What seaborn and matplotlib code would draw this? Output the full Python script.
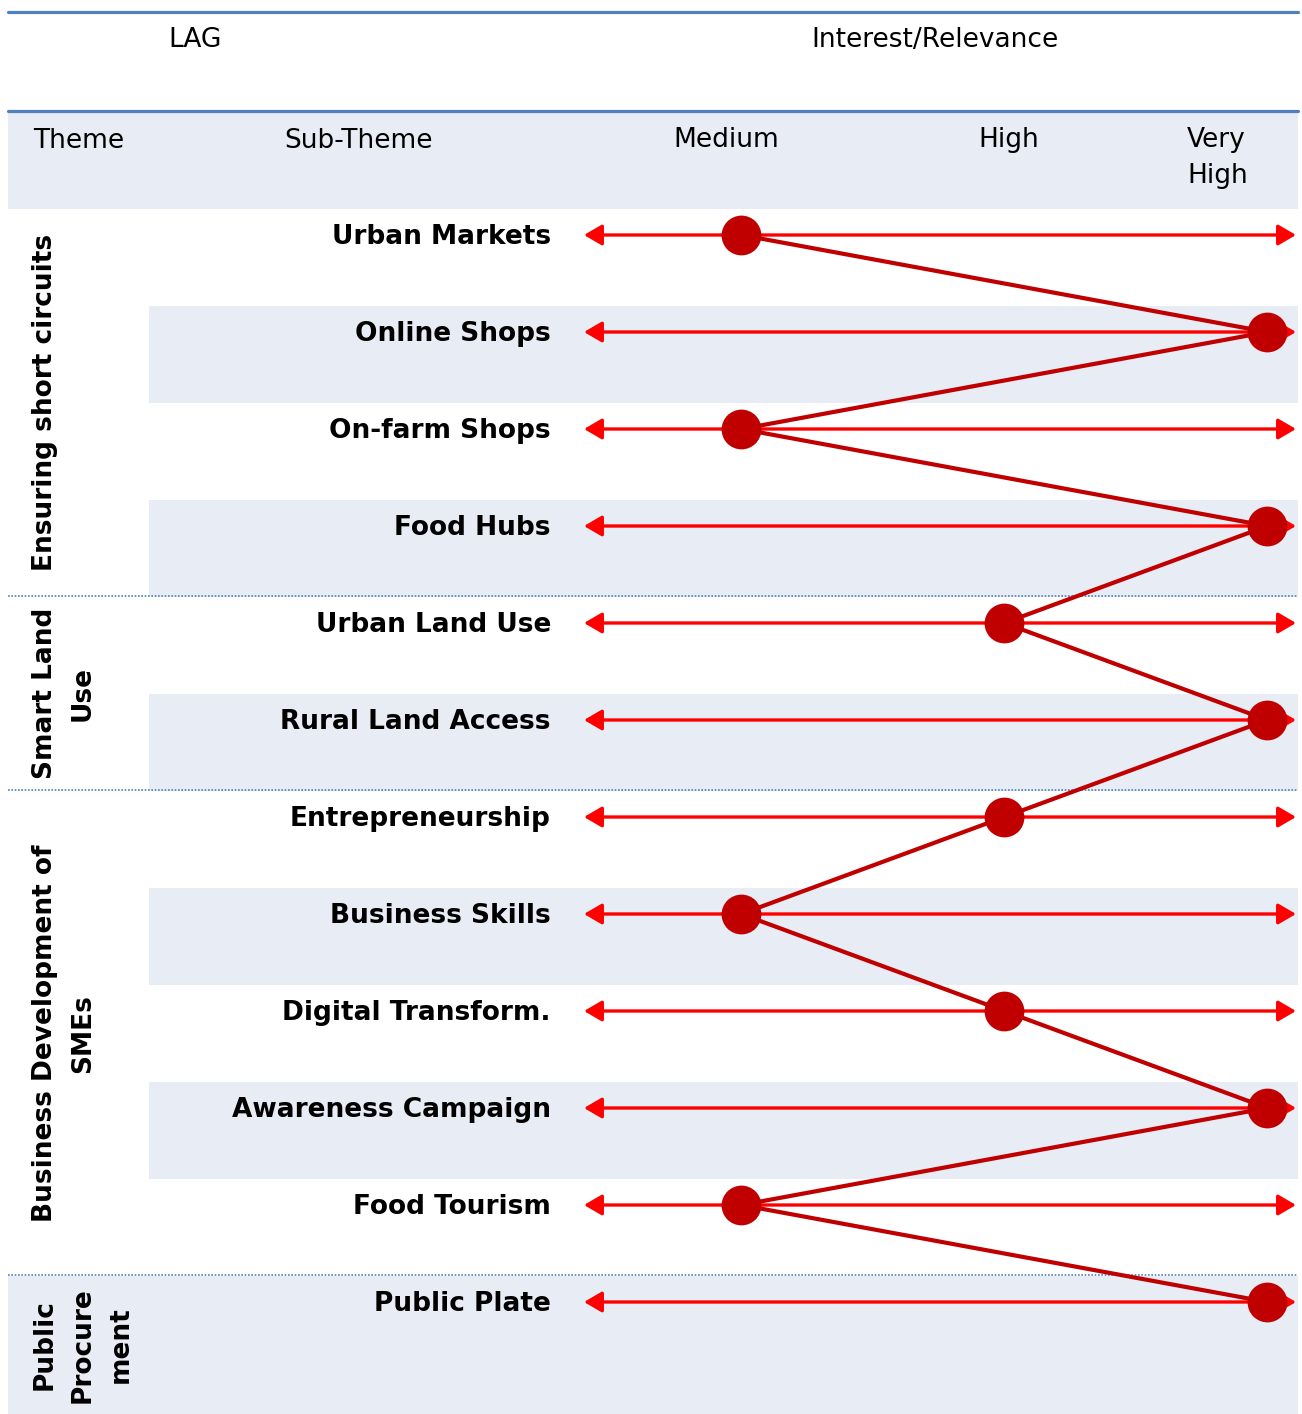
import matplotlib
matplotlib.use("Agg")
import matplotlib.pyplot as plt
import pandas as pd
import seaborn as sns

# Data
sub_themes = ["Urban Markets", "Online Shops", "On-farm Shops", "Food Hubs",
              "Urban Land Use", "Rural Land Access", "Entrepreneurship",
              "Business Skills", "Digital Transform.", "Awareness Campaign",
              "Food Tourism", "Public Plate"]
relevance = ["Medium", "Very High", "Medium", "Very High", "High", "Very High",
             "High", "Medium", "High", "Very High", "Medium", "Very High"]
levels = ["Medium", "High", "Very High"]
level_labels = ["Medium", "High", "Very\nHigh"]
themes = ["Ensuring short circuits", "Smart Land\nUse",
          "Business Development of\nSMEs", "Public\nProcure\nment"]
theme_rows = [(0, 3), (4, 5), (6, 10), (11, 11)]

df = pd.DataFrame({"sub_theme": sub_themes, "relevance": relevance})
df["row"] = range(len(df))
df["score"] = df["relevance"].map({lv: i for i, lv in enumerate(levels)})

W, H = 1302, 1414
BLUE = "#4F81BD"
SHADE = "#E8ECF4"
RED = "#FF0000"
DARK_RED = "#C00000"

sns.set_style("white")
plt.rcParams["font.family"] = ["DejaVu Sans"]
plt.rcParams["text.color"] = "black"

fig = plt.figure(figsize=(W / 100, H / 100), dpi=100)
ax = fig.add_axes([0, 0, 1, 1])

# pixel <-> data mapping: level i at x0 + dx*i, row r at y0 + dy*r
x0, dx = 741.3, 263.0
y0, dy = 235.0, 97.0
ax.set_xlim(-x0 / dx, (W - x0) / dx)
ax.set_ylim((H - y0) / dy, -y0 / dy)
ax.axis("off")


def lx(px):
    return (px - x0) / dx


def ry(py):
    return (py - y0) / dy


# header lines and band
ax.axhline(ry(12), xmin=8 / W, xmax=1298 / W, color=BLUE, lw=2.3)
ax.axhline(ry(111), xmin=8 / W, xmax=1298 / W, color=BLUE, lw=2.3)
ax.axhspan(ry(113), ry(209), xmin=8 / W, xmax=1298 / W, color=SHADE, lw=0)

# row shading
for r in df["row"]:
    if r == len(df) - 1:
        ax.axhspan(r - 0.27, ry(H), xmin=8 / W, xmax=1298 / W, color=SHADE, lw=0)
    elif r % 2 == 1:
        ax.axhspan(r - 0.27, r + 0.73, xmin=149 / W, xmax=1298 / W, color=SHADE, lw=0)

# dotted group separators
for start, end in theme_rows[1:]:
    ax.axhline(start - 0.28, xmin=8 / W, xmax=1298 / W, color=BLUE, lw=1.2, ls=(0, (1, 1)))

fs = 19
fig.text(195 / W, 1 - 40 / H, "LAG", ha="center", va="center", fontsize=fs)
fig.text(935 / W, 1 - 40 / H, "Interest/Relevance", ha="center", va="center", fontsize=fs)
fig.text(33 / W, 1 - 141 / H, "Theme", ha="left", va="center", fontsize=fs)
fig.text(284 / W, 1 - 141 / H, "Sub-Theme", ha="left", va="center", fontsize=fs)
for lbl, px in zip(level_labels, [673, 978, 1187]):
    ax.text(lx(px), ry(127), lbl, ha="left", va="top", fontsize=fs, linespacing=1.5)

# theme labels
for name, (start, end) in zip(themes, theme_rows):
    top = start - 0.27
    bottom = end + 0.73 if end < len(df) - 1 else ry(H)
    ax.text(lx(32), (top + bottom) / 2, name, rotation=90, ha="left", va="center",
            fontsize=fs, fontweight="bold", multialignment="center", linespacing=1.6)

# sub-theme labels and arrows
for _, row in df.iterrows():
    ax.text(lx(551), row["row"] + 0.02, row["sub_theme"], ha="right", va="center",
            fontsize=fs, fontweight="bold")
    ax.annotate("", xy=(lx(1296), row["row"]), xytext=(lx(584), row["row"]),
                arrowprops=dict(arrowstyle="<|-|>,head_length=0.6,head_width=0.35",
                                mutation_scale=18, color=RED, lw=2.4,
                                shrinkA=0, shrinkB=0))

sns.lineplot(data=df, x="score", y="row", sort=False, estimator=None,
             color=DARK_RED, lw=3, ax=ax, zorder=4)
sns.scatterplot(data=df, x="score", y="row", color=DARK_RED, s=820,
                edgecolor=DARK_RED, linewidth=0, ax=ax, zorder=5)

fig.savefig("out.png", dpi=100)
